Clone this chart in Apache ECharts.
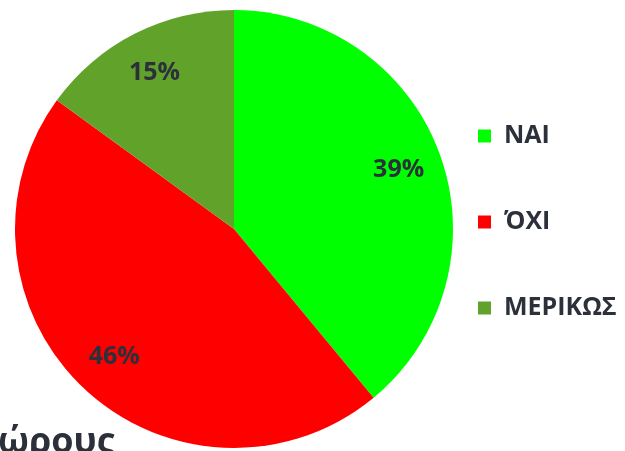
<!DOCTYPE html>
<html>
<head>
<meta charset="utf-8">
<script src="https://cdn.jsdelivr.net/npm/echarts@6/dist/echarts.min.js"></script>
<style>
  html, body { margin: 0; padding: 0; background: #fff; }
  #chart { width: 625px; height: 451px; }
</style>
</head>
<body>
<div id="chart"></div>
<script>
var answerNames = ['ΝΑΙ', 'ΌΧΙ', 'ΜΕΡΙΚΩΣ'];
var answerValues = [39, 46, 15];
var answerColors = ['#00ff00', '#ff0000', '#61a22a'];
var textColor = '#2b303b';

var pieData = [];
var labelData = [];
var legendData = [];
for (var i = 0; i < answerNames.length; i++) {
  pieData.push({ name: answerNames[i], value: answerValues[i], itemStyle: { color: answerColors[i] } });
  labelData.push({ name: answerNames[i], value: answerValues[i] });
  legendData.push({ name: answerNames[i], itemStyle: { color: answerColors[i] } });
}

var myChart = echarts.init(document.getElementById('chart'));
var option = {
  backgroundColor: '#fff',
  animation: false,
  legend: {
    orient: 'vertical',
    left: 473,
    top: 117,
    itemWidth: 13,
    itemHeight: 13,
    itemGap: 58,
    icon: 'rect',
    selectedMode: false,
    data: legendData,
    textStyle: {
      fontFamily: 'Open Sans',
      fontWeight: 'bold',
      fontSize: 25,
      color: textColor,
      padding: [0, 0, 0, 8],
      lineHeight: 28
    }
  },
  graphic: [{
    type: 'text',
    left: -2,
    top: 425,
    style: {
      text: 'ώρους',
      font: 'bold 36px "Open Sans"',
      fill: textColor
    }
  }],
  series: [{
    name: 'pie',
    type: 'pie',
    center: [234, 229],
    radius: 219,
    startAngle: 90,
    clockwise: true,
    silent: true,
    label: { show: false },
    labelLine: { show: false },
    data: pieData
  }, {
    // transparent ring that only carries the percentage labels
    name: 'labels',
    type: 'pie',
    center: [234, 229],
    radius: [125, 219],
    startAngle: 90,
    clockwise: true,
    silent: true,
    itemStyle: { color: 'rgba(0,0,0,0)' },
    label: {
      show: true,
      position: 'inside',
      formatter: '{c}%',
      fontFamily: 'Open Sans',
      fontWeight: 'bold',
      fontSize: 25,
      color: textColor
    },
    labelLine: { show: false },
    data: labelData
  }]
};
myChart.setOption(option);
</script>
</body>
</html>
